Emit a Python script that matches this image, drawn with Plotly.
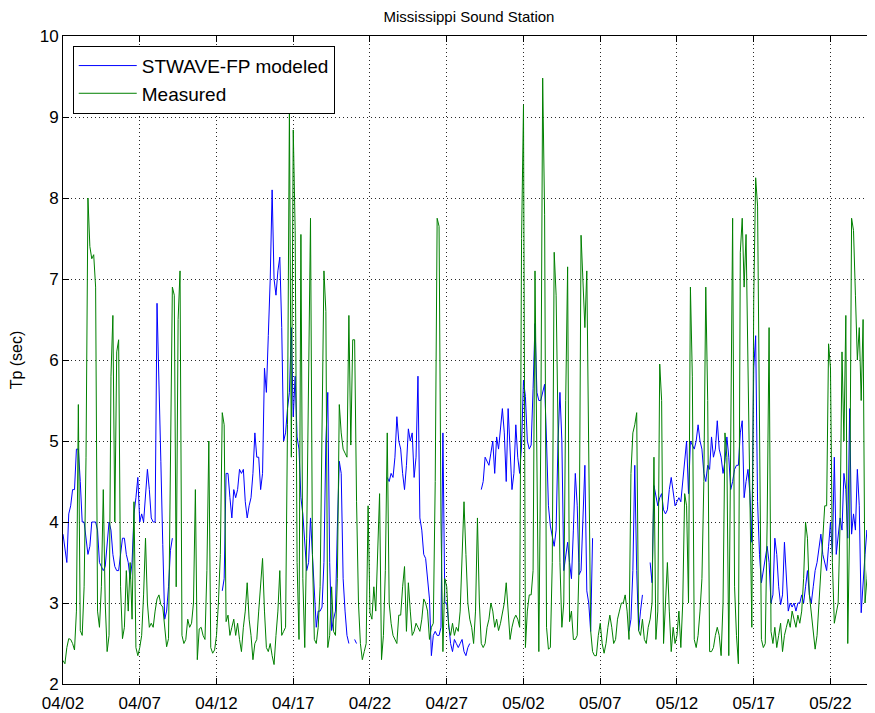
import pandas as pd
import plotly.graph_objects as go

# 3-hourly values, one row per day starting 04/02 00:00
modeled_tp = [
    3.85, 3.7, 3.5, 4.1, 4.2, 4.4, 4.4, 4.9,        # 04/02
    4.9, 4.5, 4.0, 4.0, 3.8, 3.6, 3.7, 4.0,
    4.0, 4.0, 3.9, 3.5, 3.45, 3.4, 3.45, 3.7,
    4.0, 3.9, 3.6, 3.45, 3.4, 3.4, 3.6, 3.8,
    3.8, 3.6, 3.5, 3.3, 3.5, 4.1, 4.3, 4.55,
    4.0, 4.1, 4.0, 4.3, 4.65, 4.4, 4.05, 4.0,
    4.0, 6.7, 5.85, 4.75, 3.72, 2.8, 2.9, 3.2,
    3.65, 3.8, None, None, None, None, None, None,  # 04/09
    None, None, None, None, None, None, None, None,
    None, None, None, None, None, None, None, None,
    None, None, None, 3.15, 3.3, 4.6, 4.6, 4.3,     # 04/12
    4.05, 4.4, 4.3, 4.4, 4.65, 4.6, 4.65, 4.25,
    4.05, 4.2, 4.3, 4.6, 5.1, 4.8, 4.8, 4.4,
    4.6, 5.9, 5.6, 6.3, 7.0, 8.1, 7.0, 6.8,
    7.1, 7.27, 6.4, 5.0, 5.1, 5.4, 5.6, 6.4,
    5.3, 5.8, 5.05, 4.9, 4.3, 4.1, 3.7, 3.4,
    3.5, 4.05, 3.6, 3.2, 2.7, 2.9, 2.9, 2.95,
    3.5, 5.0, 5.6, 3.5, 2.66, 2.8, 2.9, 3.95,       # 04/19
    4.75, 4.6, 3.3, 2.9, 2.6, 2.5, None, None,
    2.55, 2.5, None, None, None, None, None, None,
    None, None, None, None, None, None, None, None,
    None, 4.55, 4.5, 4.6, 4.55, 4.8, 5.3, 5.0,      # 04/23
    4.9, 4.6, 4.4, 4.7, 5.15, 5.0, 5.1, 4.55,
    4.8, 5.8, 4.05, 3.9, 3.6, 3.55, 3.3, 3.05,
    2.35, 2.6, 2.65, 2.6, 2.6, 2.7, 5.1, 3.0,
    3.0, 2.7, 2.5, 2.4, 2.55, 2.5, 2.45, 2.5,
    2.55, 2.4, 2.35, 2.45, 2.5, None, None, None,   # 04/28
    None, None, 4.4, 4.5, 4.8, 4.75, 4.7, 4.85,
    5.0, 4.6, 5.05, 4.9, 5.2, 5.4, 5.1, 4.5,
    5.4, 4.9, 4.4, 4.6, 5.2, 4.8, 4.6, 4.95,
    5.75, 5.55, 5.0, 4.9, 4.95, 5.65, 6.45, 5.6,    # 05/02
    5.5, 5.5, 5.6, 5.7, 5.0, 4.2, 3.95, 3.8,
    3.7, 3.9, 5.0, 5.6, 5.0, 3.4, 3.6, 3.75,
    3.5, 3.3, 3.9, 4.6, 4.2, 3.35, 3.4, 4.2,
    4.7, 3.15, 3.0, 2.65, 3.8, None, None, None,
    None, None, None, None, None, None, None, None,  # 05/07
    None, None, None, None, None, None, None, 2.65,
    2.8, 3.4, 4.7, 3.4, 2.66, 2.9, 3.1, None,
    None, None, 3.5, 3.25, 4.45, 4.3, 4.2, 4.3,
    4.35, 4.15, 4.1, 4.15, 4.4, 4.55, 4.35, 4.2,
    4.25, 4.3, 4.25, 4.5, 4.7, 5.0, 4.35, 5.0,      # 05/12
    4.95, 4.9, 5.0, 5.2, 5.0, 4.9, 4.6, 4.5,
    4.7, 4.65, 5.05, 4.8, 4.9, 5.25, 4.9, 4.8,
    4.6, 4.75, 5.05, 4.8, 4.4, 4.5, 4.65, 4.7,
    4.7, 5.1, 5.25, 4.3, 4.5, 4.65, 4.35, 3.75,
    5.9, 6.3, 4.25, 3.6, 3.25, 3.4, 3.55, 3.7,      # 05/17
    3.5, 3.0, 3.1, 3.8, 3.6, 3.2, 2.98, 3.1,
    3.75, 3.3, 2.9, 3.0, 2.95, 3.0, 2.9, 3.0,
    3.0, 3.1, 3.0, 3.2, 3.4, 3.1, 3.0, 3.2,
    3.4, 3.5, 3.7, 3.85, 3.6, 3.5, 3.4, 3.7,
    4.0, 3.6, 4.8, 3.6, 3.8, 4.05, 3.9, 4.6,        # 05/22
    4.4, 3.8, 5.4, 3.85, 4.1, 3.9, 4.65, 4.2,
    2.88, 3.3, 3.6, 3.9, 3.6, 3.25, 3.3, 3.1,
]

measured_tp = [
    2.29, 2.25, 2.45, 2.56, 2.55, 2.5, 2.42, 2.9,    # 04/02
    5.45, 2.66, 2.6, 3.2, 4.8, 8.0, 7.4, 7.25,
    7.3, 6.9, 2.9, 2.7, 3.2, 4.4, 3.0, 2.4,
    2.6, 5.8, 6.55, 4.0, 6.1, 6.25, 3.2, 2.56,
    2.7, 3.4, 2.9, 3.5, 2.8, 4.25, 2.45, 2.35,
    2.45, 2.6, 3.1, 3.8, 3.0, 2.7, 2.75, 2.7,
    2.9, 3.05, 3.1, 2.98, 2.95, 2.7, 2.46, 2.56,
    4.5, 6.9, 6.8, 3.2, 6.5, 7.1, 2.6, 2.5,          # 04/09
    2.55, 2.8, 2.7, 2.75, 3.0, 4.4, 2.3, 2.68,
    2.7, 2.6, 2.55, 3.4, 5.0, 2.45, 2.38, 2.42,
    2.6, 3.0, 3.6, 5.35, 5.2, 2.77, 2.85, 2.6,       # 04/12
    2.7, 2.8, 2.6, 2.75, 2.55, 2.4, 2.7, 2.9,
    3.25, 2.8, 2.6, 2.3, 2.5, 2.55, 2.9, 3.3,
    3.55, 2.9, 2.45, 2.4, 2.5, 2.35, 2.24, 2.6,
    2.9, 3.4, 2.6, 2.65, 2.7, 5.2, 9.13, 4.8,
    8.84, 7.6, 3.5, 2.55, 7.55, 3.3, 2.45, 3.8,
    6.0, 7.75, 3.6, 2.55, 2.5, 2.7, 3.2, 5.0,
    7.1, 6.6, 2.45, 2.6, 3.2, 2.65, 2.6, 3.3,        # 04/19
    5.45, 5.1, 4.9, 4.85, 4.8, 6.55, 4.95, 6.25,
    6.25, 4.25, 3.0, 2.5, 2.3, 2.4, 2.5, 4.2,
    2.88, 2.8, 3.2, 2.9, 3.6, 4.35, 2.3, 2.6,
    3.4, 5.1, 3.0, 2.75, 2.6, 2.55, 2.5, 2.85,       # 04/23
    2.85, 3.2, 3.45, 2.65, 3.25, 2.9, 2.6, 2.65,
    2.75, 2.7, 2.65, 2.8, 3.05, 3.0, 2.9, 2.55,
    2.7, 2.75, 4.5, 7.75, 7.65, 4.0, 2.4, 3.3,
    3.2, 2.7, 2.6, 2.75, 2.6, 2.7, 2.65, 2.9,
    3.6, 4.25, 3.6, 3.0, 2.8, 2.7, 2.5, 2.9,         # 04/28
    4.05, 3.0, 2.5, 2.45, 2.5, 2.7, 2.8, 3.0,
    2.9, 2.7, 2.8, 2.66, 2.75, 2.9, 3.0, 3.25,
    2.9, 2.55, 2.7, 2.8, 2.85, 2.8, 2.7, 7.5,
    9.15, 2.45, 2.9, 3.1, 3.1, 3.4, 7.1, 4.5,        # 05/02
    2.4, 5.0, 9.48, 7.8, 2.7, 2.43, 2.45, 3.5,
    7.33, 6.8, 4.8, 3.5, 2.7, 3.0, 5.5, 7.15,
    2.77, 2.9, 2.55, 2.55, 2.6, 3.5, 7.54, 6.95,
    6.4, 7.1, 5.0, 2.66, 2.4, 2.35, 2.35, 2.6,
    2.75, 2.5, 2.38, 2.5, 2.7, 2.85, 2.7, 2.5,       # 05/07
    2.55, 2.8, 2.9, 3.0, 3.0, 3.1, 2.9, 2.55,
    4.6, 5.1, 5.2, 5.35, 2.66, 2.6, 2.8, 2.55,
    2.5, 2.7, 2.8, 3.0, 4.8, 2.55, 2.9, 5.95,
    5.5, 2.5, 3.0, 3.5, 2.9, 2.4, 2.7, 2.5,
    2.6, 2.9, 2.45, 3.0, 4.35, 4.2, 3.0, 6.9,        # 05/12
    5.8, 2.55, 2.45, 2.6, 2.9, 3.3, 4.5, 6.9,
    5.5, 2.4, 2.4, 2.45, 2.6, 2.7, 2.6, 2.35,
    3.0, 5.1, 4.8, 2.35, 5.0, 7.75, 3.2, 2.6,
    2.25, 7.33, 7.75, 6.9, 7.55, 6.05, 4.6, 2.7,
    6.75, 8.25, 7.9, 5.5, 2.55, 2.45, 2.5, 4.0,      # 05/17
    6.4, 2.65, 2.5, 2.7, 2.45, 2.6, 2.75, 2.4,
    2.6, 2.7, 2.8, 2.7, 2.9, 2.8, 2.7, 2.85,
    2.75, 2.9, 3.3, 4.0, 3.8, 3.1, 2.9, 2.7,
    2.43, 2.6, 3.0, 3.5, 3.8, 4.2, 4.2, 6.2,
    5.9, 3.5, 2.75, 2.9, 3.0, 4.0, 6.1, 5.0,         # 05/22
    6.55, 2.5, 4.0, 7.75, 7.6, 6.8, 6.0, 6.4,
    5.5, 6.5, 3.0, 3.3, 3.7, 2.9, 2.7, 2.6,
]

times = pd.date_range("2008-04-02", periods=len(measured_tp), freq="3h")
x_ticks = pd.date_range("2008-04-02", "2008-05-22", freq="5D")

fig = go.Figure()
fig.add_trace(go.Scatter(x=times, y=modeled_tp, mode="lines", name="STWAVE-FP modeled",
                         line=dict(color="rgb(0,0,255)", width=1), connectgaps=False))
fig.add_trace(go.Scatter(x=times, y=measured_tp, mode="lines", name="Measured",
                         line=dict(color="rgb(0,128,0)", width=1)))

# the page body adds an 8px offset, so the figure is 8px smaller than the window
fig.update_layout(
    width=867, height=705,
    margin=dict(l=55, r=0, t=28, b=29),
    paper_bgcolor="white", plot_bgcolor="white",
    font=dict(family="Liberation Sans, Arial, sans-serif", size=17, color="black"),
    title=dict(text="Mississippi Sound Station", x=0.5, xref="paper", y=0.987,
               yanchor="middle", font=dict(size=15)),
    showlegend=True,
    legend=dict(x=0.012, y=0.985, xanchor="left", yanchor="top", bgcolor="white",
                bordercolor="black", borderwidth=1, font=dict(size=19),
                tracegroupgap=0, itemwidth=58),
)
fig.update_xaxes(
    range=[pd.Timestamp("2008-04-02"), pd.Timestamp("2008-04-02") + pd.Timedelta(days=52.9)],
    tickvals=x_ticks, tickformat="%m/%d", automargin=False, ticklabelstandoff=4,
    showline=True, linecolor="black", linewidth=1, mirror="ticks",
    ticks="inside", ticklen=6, tickcolor="black",
    showgrid=True, gridcolor="rgb(40,40,40)", griddash="1px,3px", gridwidth=1,
    zeroline=False,
)
fig.update_yaxes(
    range=[2, 10], dtick=1, automargin=False,
    title=dict(text="Tp (sec)", standoff=14, font=dict(size=16)),
    showline=True, linecolor="black", linewidth=1, mirror="ticks",
    ticks="inside", ticklen=6, tickcolor="black",
    showgrid=True, gridcolor="rgb(40,40,40)", griddash="1px,3px", gridwidth=1,
    zeroline=False,
)

fig.write_html("out.html")
